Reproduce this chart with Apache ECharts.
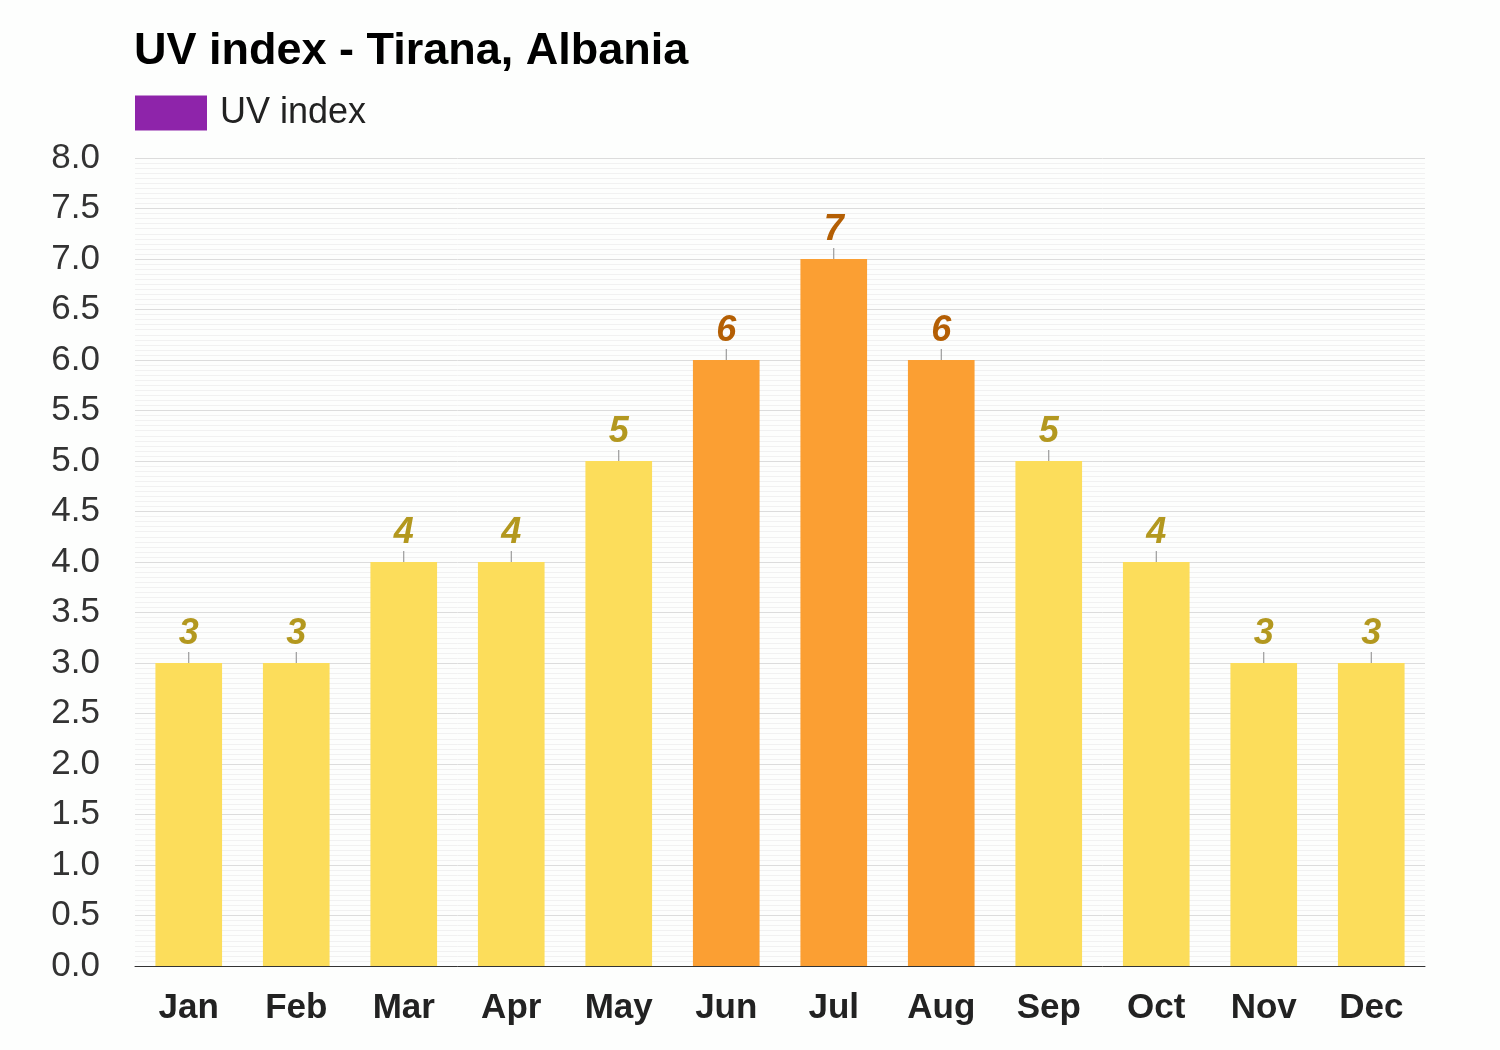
<!DOCTYPE html>
<html><head><meta charset="utf-8">
<script src="https://cdn.jsdelivr.net/npm/echarts@6/dist/echarts.min.js"></script>
<style>html,body{margin:0;padding:0;background:#fdfefd}#c{width:1500px;height:1050px}</style>
</head><body><div id="c"></div>
<script>
const months = ['Jan','Feb','Mar','Apr','May','Jun','Jul','Aug','Sep','Oct','Nov','Dec'];
const uvIndex = [3,3,4,4,5,6,7,6,5,4,3,3];
const yTicks = {min:0, max:8, interval:0.5};

const yellow = '#fcdd5b', orange = '#fb9f33';
const yellowLbl = '#b3981f', orangeLbl = '#b45f04';
const isHigh = v => v >= 6;

const chart = echarts.init(document.getElementById('c'), null, {renderer:'canvas'});
chart.setOption({
  backgroundColor:'#fdfefd',
  animation:false,
  title:{text:'UV index - Tirana, Albania', left:134, top:29, padding:0,
    textStyle:{fontFamily:'Liberation Sans', fontSize:45, fontWeight:'bold', color:'#000'}},
  legend:{left:135, top:95, padding:0, itemWidth:72, itemHeight:35, itemGap:10, icon:'rect',
    data:[{name:'UV index', itemStyle:{color:'#8e24aa'}}],
    textStyle:{fontFamily:'Liberation Sans', fontSize:36, color:'#222', padding:[2,0,0,8]}},
  grid:{left:135, right:75, top:158, bottom:84, containLabel:false},
  xAxis:{type:'category', data:months,
    axisLine:{lineStyle:{color:'#333', width:1}},
    axisTick:{show:false},
    axisLabel:{fontFamily:'Liberation Sans', fontSize:35, fontWeight:'bold', color:'#222', margin:25}},
  yAxis:{type:'value', min:yTicks.min, max:yTicks.max, interval:yTicks.interval,
    axisLine:{show:false}, axisTick:{show:false},
    axisLabel:{fontFamily:'Liberation Sans', fontSize:35, color:'#333', margin:35,
      formatter:v=>v.toFixed(1)},
    splitLine:{lineStyle:{color:'#dcdcdc', width:1}},
    minorTick:{show:false, splitNumber:10},
    minorSplitLine:{show:true, lineStyle:{color:'#f1f1f1', width:1}}},
  series:[
    {name:'UV index', type:'bar', barWidth:'62%',
      data:uvIndex.map(v=>({value:v,
        itemStyle:{color:isHigh(v)?orange:yellow},
        label:{color:isHigh(v)?orangeLbl:yellowLbl}})),
      label:{show:true, position:'top', distance:11,
        fontFamily:'Liberation Sans', fontSize:36, fontWeight:'bold', fontStyle:'italic'}},
    {type:'custom', silent:true, z:5,
      data:uvIndex.map((v,i)=>[i,v]),
      renderItem:(params, api)=>{
        const p = api.coord([api.value(0), api.value(1)]);
        return {type:'line', shape:{x1:p[0], y1:p[1], x2:p[0], y2:p[1]-11},
          style:{stroke:'#888', lineWidth:1}};
      }}
  ]
});
</script></body></html>
